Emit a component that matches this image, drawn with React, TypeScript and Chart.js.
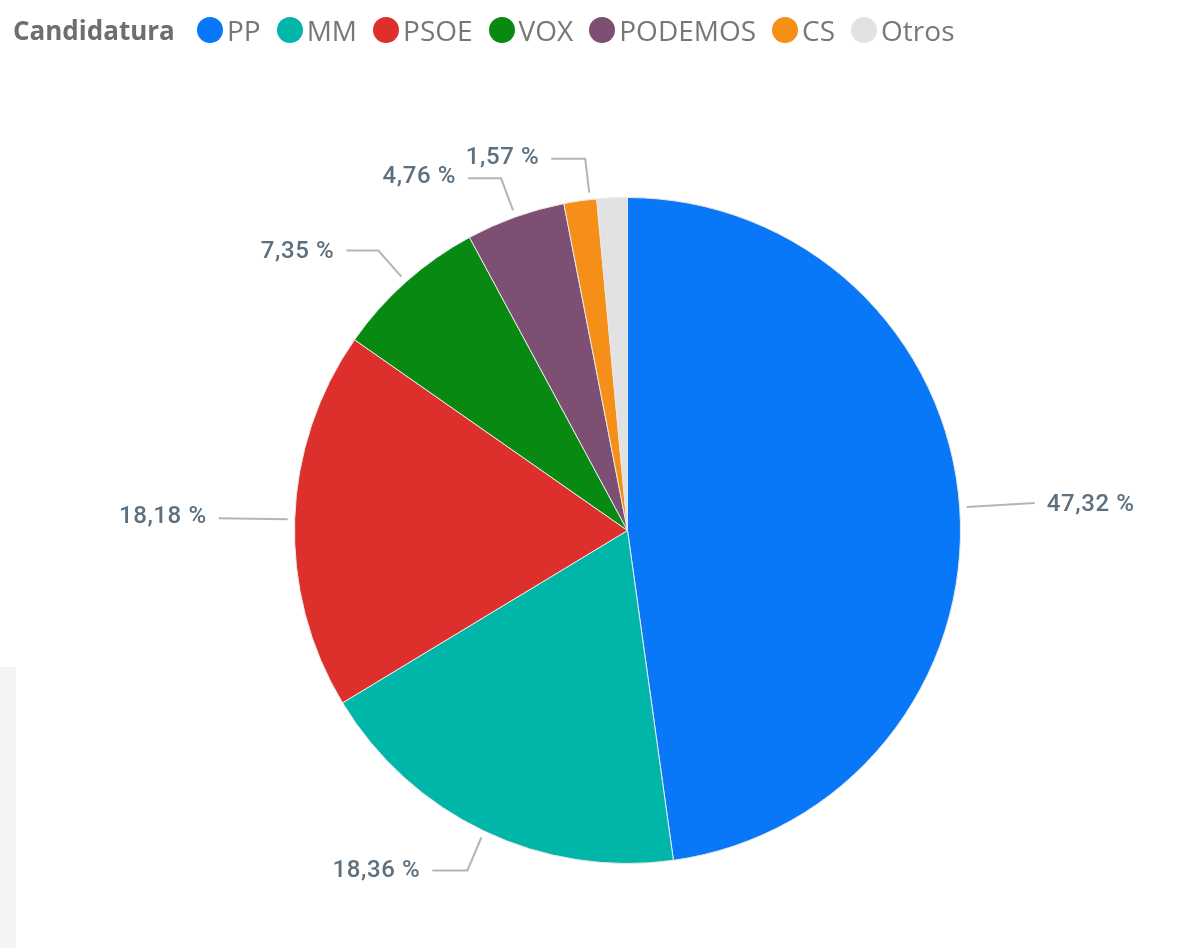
import React, { useEffect, useRef } from "react";
import { Chart, registerables } from "chart.js";

Chart.register(...registerables);

const legendTitle = "Candidatura";
const categories = ["PP", "MM", "PSOE", "VOX", "PODEMOS", "CS", "Otros"];
const shares = [47.32, 18.36, 18.18, 7.35, 4.76, 1.57, 1.46];
const sliceLabels = ["47,32 %", "18,36 %", "18,18 %", "7,35 %", "4,76 %", "1,57 %", ""];
const colors = ["#0878F8", "#00B6A9", "#DD302C", "#088A12", "#7D4F73", "#F58F17", "#E2E2E2"];

// Leader layout per labelled slice: rim shift, elbow and end offsets from the leader start
const leaders = [
  { shift: 0, elbow: [68, -4], end: [68, -4], side: "left", ty: 2 },
  { shift: 0, elbow: [-14, 33], end: [-49, 33], side: "right", ty: 1 },
  { shift: 0, elbow: [-69, -1], end: [-69, -1], side: "right", ty: -1 },
  { shift: 0, elbow: [-23, -26], end: [-55, -26], side: "right", ty: 1 },
  { shift: 0, elbow: [-12, -32], end: [-45, -32], side: "right", ty: -1 },
  { shift: 1.7, elbow: [-4, -34], end: [-38, -34], side: "right", ty: -1 },
];

const leaderPlugin = {
  id: "leaderLabels",
  afterDatasetsDraw(chart: any) {
    const arcs = chart.getDatasetMeta(0).data;
    const ctx = chart.ctx;
    ctx.save();
    leaders.forEach((l, i) => {
      const arc = arcs[i];
      const { x: cx, y: cy, outerRadius: r, startAngle, endAngle } = arc;
      const a = (startAngle + endAngle) / 2 + (l.shift * Math.PI) / 180;
      const sx = cx + (r + 7) * Math.cos(a);
      const sy = cy + (r + 7) * Math.sin(a);
      ctx.strokeStyle = "#B5B5B5";
      ctx.lineWidth = 2;
      ctx.beginPath();
      ctx.moveTo(sx, sy);
      ctx.lineTo(sx + l.elbow[0], sy + l.elbow[1]);
      ctx.lineTo(sx + l.end[0], sy + l.end[1]);
      ctx.stroke();
      ctx.fillStyle = "#5C7080";
      ctx.font = '500 24px "Roboto", sans-serif';
      (ctx as any).letterSpacing = "0.6px";
      ctx.textBaseline = "middle";
      ctx.textAlign = l.side === "left" ? "left" : "right";
      const tx = sx + l.end[0] + (l.side === "left" ? 12 : -12);
      ctx.fillText(sliceLabels[i], tx, sy + l.end[1] + l.ty);
    });
    ctx.restore();
  },
};

export default function App() {
  const ref = useRef<HTMLCanvasElement | null>(null);
  useEffect(() => {
    document.body.style.margin = "0";
    document.body.style.background = "#fff";
    const chart = new Chart(ref.current as HTMLCanvasElement, {
      type: "pie",
      data: {
        labels: categories,
        datasets: [
          {
            data: shares,
            backgroundColor: colors,
            borderColor: "#E8E8E8",
            borderWidth: 1,
          },
        ],
      },
      options: {
        responsive: false,
        devicePixelRatio: 1,
        animation: false,
        layout: { padding: { top: 197, bottom: 84, left: 294, right: 239 } },
        plugins: { legend: { display: false }, tooltip: { enabled: false } },
      },
      plugins: [leaderPlugin],
    } as any);
    return () => chart.destroy();
  }, []);

  return (
    <div style={{ position: "relative", width: 1200, height: 948, overflow: "hidden", background: "#fff" }}>
      <div style={{ position: "absolute", left: 0, top: 667, width: 16, height: 281, background: "#F4F4F4" }} />
      <canvas ref={ref} width={1200} height={948} style={{ position: "absolute", left: 0, top: 0 }} />
      <div
        style={{
          position: "absolute",
          left: 13,
          top: 12,
          height: 36,
          display: "flex",
          alignItems: "center",
          fontFamily: '"Open Sans", sans-serif',
          fontSize: 28,
          color: "#777777",
          whiteSpace: "nowrap",
        }}
      >
        <span style={{ fontWeight: 700, fontSize: 26, marginRight: 24, width: 160, color: "#6E6E6E" }}>{legendTitle}</span>
        {categories.map((c, i) => (
          <span key={c} style={{ display: "flex", alignItems: "center", marginRight: 16 }}>
            <span
              style={{
                display: "inline-block",
                width: 26,
                height: 26,
                borderRadius: "50%",
                background: colors[i],
                marginRight: 4,
              }}
            />
            {c}
          </span>
        ))}
      </div>
    </div>
  );
}
